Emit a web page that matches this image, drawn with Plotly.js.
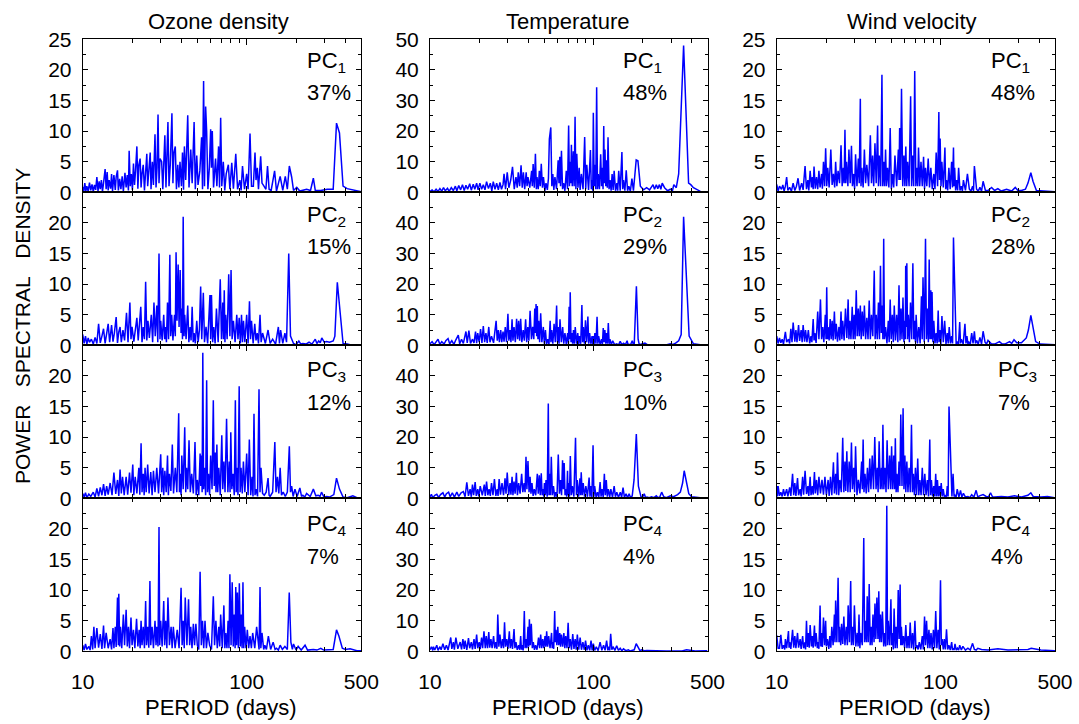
<!DOCTYPE html>
<html><head><meta charset="utf-8">
<script src="https://cdn.plot.ly/plotly-3.0.1.min.js"></script>
<style>html,body{margin:0;padding:0;background:#fff}#chart{width:1079px;height:724px}</style>
</head><body><div id="chart"></div>
<script>
// ---------- labels ----------
const columnTitles = ['Ozone density', 'Temperature', 'Wind velocity'];
const pcNames = ['PC<sub>1</sub>', 'PC<sub>2</sub>', 'PC<sub>3</sub>', 'PC<sub>4</sub>'];
const ozoneVariance = ['37%', '15%', '12%', '7%'];
const temperatureVariance = ['48%', '29%', '10%', '4%'];
const windVariance = ['48%', '28%', '7%', '4%'];
const xTickVals = [10, 100, 500];
const xTickText = ['10', '100', '500'];
const xMinorVals = [20, 30, 40, 50, 60, 70, 80, 90, 200, 300, 400];
const yTicksTop25 = [0, 5, 10, 15, 20, 25];
const yTicks25 = [0, 5, 10, 15, 20];
const yTicksTop50 = [0, 10, 20, 30, 40, 50];
const yTicks50 = [0, 10, 20, 30, 40];

// ---------- data: [period (days), power spectral density] ----------
const ozonePC1 = [[10,0.9],[10.15,0.1],[10.3,1.5],[10.45,0.2],[10.6,1.0],[10.8,0.1],[11.0,1.6],[11.2,0.3],[11.4,1.3],[11.6,0.1],[11.8,1.2],[12.0,0.4],[12.2,2.5],[12.4,0.2],[12.6,1.8],[12.8,0.5],[13.0,2.0],[13.2,0.1],[13.4,1.5],[13.7,3.8],[13.9,0.5],[14.1,3.3],[14.3,0.3],[14.5,2.0],[14.8,0.6],[15.0,3.0],[15.2,0.2],[15.5,2.8],[15.8,0.4],[16.0,2.5],[16.3,3.6],[16.5,0.3],[16.8,2.2],[17.1,0.5],[17.4,2.6],[17.7,0.2],[18.1,3.2],[18.4,0.8],[18.7,2.8],[19.0,0.3],[19.2,6.8],[19.5,1.0],[19.8,3.0],[20.1,0.4],[20.4,4.7],[20.7,1.2],[21.0,3.5],[21.4,7.5],[21.7,0.6],[22.0,4.5],[22.4,5.5],[22.7,0.8],[23.0,3.0],[23.4,4.5],[23.8,0.3],[24.2,3.8],[24.6,6.3],[24.9,1.0],[25.3,4.0],[25.8,6.5],[26.1,0.5],[26.6,5.0],[27.0,1.2],[27.6,9.5],[28.0,0.8],[28.4,4.0],[28.8,12.7],[29.2,1.5],[29.6,5.5],[30.3,5.0],[30.8,0.5],[31.2,3.5],[31.7,9.3],[32.2,0.8],[32.7,6.0],[33.1,11.5],[33.6,1.0],[34.2,4.5],[35.0,12.9],[35.5,1.5],[36.0,6.5],[36.7,7.5],[37.3,0.5],[38.0,4.5],[38.6,0.8],[39.2,5.0],[40.0,1.0],[40.6,6.5],[41.2,0.4],[41.7,7.5],[42.5,2.0],[43.7,12.6],[44.5,0.8],[45.6,7.0],[46.5,1.5],[47.8,11.5],[48.6,0.5],[49.6,6.0],[50.5,1.2],[51.8,3.5],[53.1,9.0],[53.8,0.5],[54.6,18.2],[55.3,1.0],[56.2,14.0],[57.0,10.0],[58.0,0.5],[59.2,4.0],[60.3,10.3],[61.0,4.0],[61.7,10.0],[62.8,0.8],[64.6,5.5],[65.8,1.0],[67.4,7.5],[68.3,0.8],[69.4,12.2],[70.5,1.0],[72.0,5.0],[73.5,0.3],[75.0,3.0],[77.3,4.5],[79.0,0.5],[81.1,4.8],[83.0,0.6],[85.8,6.3],[88.0,0.5],[90.8,2.0],[92.5,0.3],[94.3,4.3],[97.0,0.5],[100,3.0],[102,0.5],[104.8,9.6],[107,1.0],[109.8,1.0],[112.4,6.5],[114,2.0],[116.1,4.0],[118,0.5],[121.7,5.9],[124,1.5],[127.5,1.0],[131,0.5],[134,4.3],[137,0.5],[141,0.3],[148,3.5],[152,0.2],[160,2.6],[166,0.3],[172,2.6],[177,0.5],[182,4.3],[188,2.5],[193,0.3],[202,0.8],[211,0.2],[232,0.5],[245,0.3],[255,2.3],[262,0.3],[283,0.3],[310,0.5],[337,0.5],[353,11.3],[368,9.7],[387,1.0],[410,0.6],[440,0.4],[470,0.2],[500,0.1]];

const ozonePC2 = [[10,1.8],[10.2,0.3],[10.4,1.5],[10.6,0.2],[10.8,1.2],[11.0,0.5],[11.3,1.0],[11.6,0.2],[11.9,1.3],[12.2,0.3],[12.5,3.5],[12.8,0.4],[13.1,1.5],[13.4,2.7],[13.7,0.3],[14.0,1.8],[14.3,3.5],[14.6,0.5],[15.0,3.3],[15.3,0.6],[15.6,2.0],[16.0,4.6],[16.3,0.4],[16.6,2.2],[16.9,3.0],[17.2,0.5],[17.6,2.5],[18.0,0.8],[18.5,5.3],[18.9,0.5],[19.4,7.0],[19.7,1.0],[20.0,3.0],[20.5,0.6],[21.0,2.5],[21.4,4.5],[21.8,0.8],[22.2,3.0],[22.6,6.3],[23.0,0.5],[23.4,3.0],[23.8,1.0],[24.2,10.4],[24.6,0.8],[25.0,4.0],[25.5,1.2],[26.2,5.0],[26.7,0.5],[27.2,7.0],[27.7,1.5],[28.3,6.5],[28.7,0.5],[29.2,15.0],[29.6,1.0],[29.9,4.0],[30.5,0.8],[31.2,5.0],[31.6,1.0],[32.0,3.0],[32.4,0.5],[32.9,7.0],[33.4,1.0],[34.0,14.8],[34.4,1.5],[34.9,5.0],[35.5,0.8],[36.3,5.0],[36.7,1.5],[37.1,15.2],[37.6,4.0],[38.2,13.2],[38.7,3.0],[39.3,12.3],[39.8,2.0],[40.2,6.0],[40.6,1.0],[41.0,21.0],[41.5,1.5],[41.9,5.0],[42.7,1.0],[43.7,6.5],[44.4,0.5],[45.2,3.0],[45.8,0.8],[46.5,6.3],[47.2,0.5],[47.8,2.0],[48.6,0.3],[49.6,4.0],[50.6,0.5],[51.5,2.5],[52.4,9.6],[53.2,1.0],[54.4,8.6],[55.3,0.5],[56.5,3.0],[57.8,0.3],[59.7,8.2],[60.3,1.0],[61.0,8.2],[62.0,0.5],[63.0,3.0],[64.2,0.3],[65.4,6.0],[67.0,0.5],[69.0,10.8],[70.2,1.0],[71.5,7.0],[72.2,1.0],[73.0,9.0],[73.7,0.5],[74.5,5.0],[76.0,1.0],[77.7,11.6],[79.0,1.5],[80.3,12.3],[81.5,1.0],[83.0,4.0],[85.0,0.5],[87.0,5.0],[88.5,1.0],[90.0,4.5],[91.5,0.3],[93.0,5.0],[94.3,0.5],[95.6,4.0],[97.5,0.5],[100,5.0],[102,0.3],[104,7.2],[105.5,1.0],[107,4.0],[109.5,0.3],[112,3.5],[114,0.8],[116,2.0],[118,0.3],[120.6,5.0],[122.5,0.5],[125,2.0],[130,0.3],[135,2.5],[139,0.3],[144,1.0],[150,0.2],[156,3.0],[158.5,0.3],[161,2.5],[166,0.3],[171,2.0],[175,0.5],[180.5,15.0],[185,1.5],[193,0.3],[200,0.1],[208,0.7],[214,0.2],[220,0.3],[230,0.2],[240,0.5],[250,0.2],[262,1.0],[268,0.3],[275,0.7],[281,0.4],[287,1.2],[297,0.5],[307,0.6],[320,0.5],[337,0.7],[345,1.5],[357,10.3],[368,6.0],[378,2.5],[387,0.3],[410,0.2],[427,0.1],[491,0.1],[500,0.1]];

const ozonePC3 = [[10,0.8],[10.2,0.2],[10.4,0.9],[10.6,0.1],[10.9,0.7],[11.2,0.3],[11.6,1.0],[11.9,0.2],[12.2,1.6],[12.5,0.3],[12.8,1.8],[13.1,0.5],[13.4,2.3],[13.7,0.4],[14.0,2.0],[14.3,0.6],[14.7,2.5],[15.1,0.5],[15.5,4.2],[15.9,0.7],[16.3,3.0],[16.6,0.4],[16.9,4.7],[17.2,0.8],[17.5,3.5],[17.9,0.5],[18.4,3.5],[18.8,0.6],[19.3,4.2],[19.7,0.9],[20.2,5.5],[20.5,0.5],[20.9,3.5],[21.4,0.8],[22.0,5.0],[22.3,0.6],[22.7,9.0],[23.0,1.0],[23.4,4.0],[23.7,0.5],[24.0,5.0],[24.4,1.0],[24.9,5.5],[25.4,0.8],[26.0,4.3],[26.5,0.5],[27.0,4.5],[27.6,1.0],[28.3,5.0],[29.0,0.8],[29.9,7.2],[30.3,1.0],[30.8,5.0],[31.2,0.5],[31.7,4.5],[32.3,1.0],[32.9,7.0],[33.3,0.5],[33.8,4.0],[34.5,1.2],[35.2,8.8],[35.8,0.8],[36.7,5.0],[37.5,1.0],[38.5,13.9],[38.9,1.0],[39.3,4.0],[39.8,0.5],[40.2,7.0],[41.0,1.5],[41.9,11.6],[42.5,1.0],[43.0,5.0],[43.7,1.5],[44.5,9.5],[45.3,1.0],[46.2,4.0],[47.3,0.8],[48.4,9.2],[49.2,0.5],[50.0,3.0],[51.0,0.5],[52.0,7.3],[52.5,2.0],[53.0,7.0],[53.5,1.0],[54.0,23.8],[54.6,1.5],[55.3,5.0],[56.2,0.5],[57.0,19.3],[57.7,1.0],[58.5,4.0],[59.4,0.5],[60.3,7.0],[61.5,1.5],[62.6,16.0],[63.4,2.0],[64.3,7.5],[65.0,1.0],[65.8,8.8],[66.6,1.0],[67.6,5.0],[69.0,0.5],[70.5,10.3],[71.5,1.5],[72.6,6.0],[73.8,1.0],[75.4,13.0],[76.8,1.0],[78.3,6.0],[79.2,1.0],[80.0,10.8],[81.2,1.5],[82.5,4.0],[84.0,0.5],[85.3,16.0],[86.3,1.0],[87.2,5.0],[88.5,0.5],[90.0,18.3],[91.2,1.0],[92.4,5.0],[94.0,0.8],[95.5,6.0],[97.5,1.0],[100,7.3],[102,0.5],[103.8,9.6],[105.8,0.5],[107.8,3.5],[109.3,0.3],[110.8,13.8],[112.4,0.5],[114,1.5],[116.5,0.3],[118.9,17.8],[120.6,1.0],[122.3,5.0],[125,0.8],[128,0.5],[131.5,1.0],[135,3.3],[137,0.5],[139,0.3],[144,1.0],[148.5,9.2],[151,1.0],[154,3.5],[157,0.8],[160,5.0],[163,0.5],[167,1.0],[172,0.3],[177,1.0],[182,8.5],[185,1.0],[188,2.0],[192,0.3],[197,1.5],[203,0.3],[211,1.7],[216,0.3],[220,0.5],[226,0.2],[232,0.8],[244,0.3],[255,1.5],[264,0.4],[273,0.5],[280,0.3],[286,1.0],[296,0.2],[307,0.3],[320,0.2],[330,0.4],[340,0.6],[353,3.3],[368,1.5],[387,0.2],[410,0.1],[444,0.4],[470,0.1],[500,0.1]];

const ozonePC4 = [[10,1.0],[10.2,0.2],[10.4,1.2],[10.6,0.3],[10.9,0.8],[11.1,0.2],[11.3,2.5],[11.5,0.3],[11.7,4.0],[11.9,0.5],[12.2,3.8],[12.5,0.6],[12.8,2.8],[13.1,0.4],[13.4,4.2],[13.6,0.5],[13.9,3.0],[14.3,0.5],[14.7,2.0],[15.0,0.3],[15.3,3.8],[15.5,0.5],[15.8,4.0],[16.0,0.7],[16.3,8.8],[16.5,1.0],[16.6,9.4],[16.8,0.8],[17.0,4.0],[17.3,0.5],[17.7,6.0],[18.0,1.0],[18.4,6.8],[18.7,0.8],[19.0,4.0],[19.3,0.5],[19.7,5.5],[20.0,1.0],[20.4,3.5],[20.8,0.5],[21.3,5.3],[21.7,0.8],[22.1,3.5],[22.4,0.5],[22.7,5.0],[23.0,1.0],[23.4,4.0],[23.8,0.5],[24.2,8.2],[24.5,1.0],[24.9,4.0],[25.3,0.6],[25.7,11.5],[26.0,1.0],[26.5,4.0],[27.0,0.5],[27.6,5.0],[28.0,1.0],[28.3,4.0],[28.8,0.8],[29.2,20.3],[29.5,1.0],[29.9,5.0],[30.5,0.8],[31.2,8.2],[31.6,1.0],[32.1,5.0],[32.6,0.5],[33.1,8.8],[33.8,1.0],[34.6,4.0],[35.1,0.5],[35.7,4.0],[36.6,0.5],[37.7,3.5],[38.7,0.5],[39.8,10.4],[40.4,1.0],[41.0,5.0],[41.6,0.5],[42.2,8.8],[43.2,1.0],[44.2,8.5],[44.9,1.0],[45.6,4.0],[46.4,0.5],[47.3,4.5],[48.1,1.0],[49.0,4.5],[49.5,1.0],[50.0,1.0],[51.0,0.3],[52.0,13.0],[52.9,1.0],[53.8,5.0],[54.7,0.5],[55.7,5.0],[56.8,0.5],[58.0,3.0],[59.4,1.0],[61.0,0.3],[62.6,9.0],[63.7,1.0],[64.9,5.0],[66.2,0.5],[67.6,4.0],[68.5,0.8],[69.4,6.0],[71.0,0.5],[72.6,7.5],[73.6,0.5],[74.6,3.0],[75.8,0.5],[77.0,5.0],[78.0,0.5],[79.0,12.6],[80.3,1.0],[81.6,11.3],[82.8,0.8],[84.0,6.0],[85.0,0.5],[85.8,10.5],[86.8,1.0],[87.8,9.6],[89.0,0.5],[90.2,11.1],[91.5,0.8],[92.7,6.0],[93.8,0.5],[94.9,11.3],[96.0,0.5],[97.2,4.0],[99.0,0.5],[100.9,3.5],[102.8,0.5],[104.8,2.5],[106.8,0.5],[108.8,3.0],[112,0.5],[115,4.0],[117.9,1.5],[119,0.3],[120.6,10.5],[122,0.5],[124,3.0],[127,0.3],[129,1.0],[132,0.3],[135.6,2.5],[140,0.3],[145,1.5],[149,0.3],[152,0.5],[156,0.2],[160,1.0],[165,0.3],[171,0.8],[177,0.3],[181.8,9.6],[186,1.5],[190,0.3],[193,1.2],[200,0.2],[206,0.8],[215,0.2],[227,1.0],[235,0.2],[246,0.3],[255,0.3],[268,0.2],[283,0.5],[295,0.2],[307,0.2],[320,0.2],[337,0.3],[353,3.5],[365,2.5],[383,0.5],[400,0.3],[427,0.4],[470,0.1],[500,0.1]];

const temperaturePC1 = [[10,0.3],[10.3,0.8],[10.6,0.2],[10.9,1.0],[11.2,0.3],[11.5,1.2],[11.8,0.4],[12.1,1.5],[12.4,0.5],[12.8,1.3],[13.1,0.3],[13.5,1.5],[13.9,0.6],[14.3,2.0],[14.6,0.5],[15.0,2.2],[15.4,0.8],[15.8,2.5],[16.2,0.6],[16.6,2.3],[17.0,1.0],[17.5,2.8],[17.9,0.7],[18.4,2.6],[18.8,1.0],[19.3,3.0],[19.7,0.8],[20.2,3.0],[20.7,1.0],[21.2,2.5],[21.7,0.8],[22.2,3.5],[22.8,1.2],[23.4,3.0],[23.9,0.5],[24.4,3.5],[25.0,1.0],[25.6,3.0],[26.2,0.8],[26.8,3.2],[27.4,1.0],[28.0,2.5],[28.4,6.0],[29.0,1.0],[29.7,6.5],[30.4,1.5],[31.2,4.0],[32.0,8.3],[32.8,1.0],[33.6,5.0],[34.2,1.5],[34.7,6.5],[35.4,2.0],[36.1,8.8],[36.7,1.5],[37.3,6.5],[38.0,1.0],[38.8,6.5],[39.3,2.0],[39.8,5.0],[40.8,1.5],[41.9,7.0],[42.3,2.0],[42.8,9.2],[43.5,1.5],[44.2,12.6],[44.8,1.0],[45.2,5.0],[46.0,1.0],[46.7,7.0],[47.3,2.0],[48.0,9.3],[48.8,1.5],[49.5,5.0],[50.5,0.5],[51.3,3.0],[52.3,0.8],[53.1,4.5],[53.8,17.4],[54.9,21.2],[55.7,2.0],[56.5,6.0],[57.3,0.8],[58.2,5.0],[59.5,1.0],[60.9,10.5],[61.6,3.0],[62.3,11.6],[63.0,2.0],[63.8,13.6],[64.8,1.0],[65.8,3.0],[67.0,0.5],[68.3,7.0],[69.5,1.0],[70.6,21.8],[71.4,2.0],[72.2,10.0],[72.8,3.0],[73.4,15.5],[74.3,2.0],[75.4,13.4],[76.3,2.0],[77.3,24.7],[78.2,1.0],[79.2,12.6],[80.5,1.5],[81.9,8.0],[83.0,0.8],[84.5,6.0],[86.5,1.0],[88.5,18.1],[89.8,1.0],[91.2,9.0],[93.5,0.8],[96.0,13.8],[97.2,1.0],[98.4,4.0],[99.2,0.5],[100,26],[101.2,2.0],[102.3,9.0],[103.5,1.0],[104.8,34.3],[106,1.0],[107.2,6.0],[109,1.0],[110.9,12.4],[112.3,2.0],[113.6,8.0],[114.7,1.0],[115.8,21.7],[116.8,3.0],[117.9,14.0],[119.2,2.0],[120.6,10.5],[121.8,1.5],[123,18],[124.8,1.0],[126.6,4.0],[128.5,0.5],[130.3,6.0],[132.2,0.8],[134.1,7.0],[136.7,0.5],[139.3,3.0],[141,0.5],[143,7.0],[146,0.5],[149.6,13.2],[151.3,1.0],[153,4.0],[156,0.5],[159,7.2],[162,0.5],[165,2.0],[168.5,0.3],[172.3,4.5],[176,0.5],[183,10.6],[187.5,10.3],[194,2.0],[203,0.8],[212,1.5],[221,0.8],[232,2.5],[237,1.0],[243,2.5],[248,1.2],[254,2.5],[259,1.0],[264,3.0],[273,1.5],[285,0.5],[296,1.0],[305,0.5],[311,2.5],[322,1.5],[333,6.0],[357,48],[383,3.0],[395,2.5],[410,1.5],[452,0.3],[500,0.2]];

const temperaturePC2 = [[10,0.5],[10.3,1.2],[10.6,0.2],[10.9,1.0],[11.2,2.0],[11.5,0.3],[11.8,1.2],[12.2,0.4],[12.5,1.5],[12.9,2.2],[13.2,0.5],[13.6,1.5],[14.0,0.3],[14.4,1.8],[14.9,3.3],[15.2,0.5],[15.6,2.0],[16.0,0.6],[16.6,4.5],[16.9,0.8],[17.3,4.8],[17.7,0.6],[18.2,2.0],[18.6,0.8],[19.0,4.5],[19.3,0.7],[19.6,4.0],[20.0,1.0],[20.4,5.3],[20.8,0.8],[21.2,6.3],[21.6,1.0],[22.0,4.0],[22.4,0.8],[22.9,6.0],[23.3,1.0],[23.8,3.0],[24.5,0.8],[25.4,8.0],[25.8,1.5],[26.2,5.0],[26.6,1.0],[27.1,5.0],[27.5,1.0],[28.0,4.5],[28.4,1.2],[28.9,6.0],[29.4,1.0],[30.0,10.3],[30.4,1.5],[30.9,5.0],[31.3,1.0],[31.8,8.5],[32.2,1.5],[32.7,6.0],[33.3,1.0],[33.9,8.7],[34.4,2.0],[34.9,8.0],[35.4,1.5],[35.9,8.7],[36.5,1.0],[37.2,5.0],[37.8,1.5],[38.5,8.5],[39.1,1.0],[39.7,6.0],[40.3,1.5],[41.0,11.3],[41.8,2.0],[42.5,6.0],[43.2,2.0],[43.8,12.0],[44.2,4.0],[44.6,13.5],[45.0,3.0],[45.4,12.8],[45.8,2.0],[46.3,8.0],[46.9,1.0],[47.6,10.5],[48.4,1.0],[49.4,6.0],[50.1,0.5],[50.9,5.0],[51.7,0.3],[52.6,2.0],[53.5,0.3],[54.4,8.0],[55.0,1.0],[55.6,5.0],[56.5,0.5],[57.5,7.0],[58.5,1.0],[59.6,13.0],[60.3,1.0],[61.0,6.0],[61.7,0.5],[62.5,8.5],[63.7,1.0],[64.9,6.0],[65.9,0.5],[67.0,4.0],[68.3,0.3],[69.6,4.0],[70.4,0.5],[71.1,12.6],[71.7,2.0],[72.2,17.3],[73.0,1.0],[73.9,4.0],[74.7,0.5],[75.6,5.0],[76.5,0.5],[77.5,6.0],[78.9,0.5],[80.3,4.0],[81.3,0.3],[82.3,3.0],[83.7,0.5],[85.1,13.2],[86.0,1.0],[86.9,6.0],[88.2,0.5],[89.5,8.2],[91.0,1.0],[92.6,9.4],[93.7,0.5],[94.9,4.0],[96.5,0.5],[98.2,3.0],[99.2,0.3],[100,3.0],[101,0.3],[102.2,4.0],[103.8,0.5],[105.4,9.3],[106.6,0.5],[107.8,3.0],[110,0.3],[112.3,2.0],[113.6,0.2],[115,5.6],[116.3,1.0],[117.7,5.0],[119.1,0.5],[120.6,4.0],[122,0.5],[123.5,7.3],[125,0.5],[126.3,2.0],[128.8,0.2],[131.3,1.5],[135,0.2],[139.2,0.5],[142.5,0.1],[146,1.3],[149.5,0.2],[153,0.7],[157,0.2],[161,1.5],[163,0.2],[165,0.3],[169,0.2],[173,1.5],[176,0.2],[178,0.3],[183.5,19.3],[188,2.0],[191,0.2],[195,0.3],[207,0.7],[214,0.2],[221,0.2],[232,0.4],[244,0.3],[256,0.2],[268,0.3],[282,0.2],[296,0.5],[307,0.3],[319,0.7],[333,1.5],[345,3.5],[357,42],[386,3.0],[400,1.5],[410,0.5],[451,0.2],[500,0.2]];

const temperaturePC3 = [[10,0.5],[10.2,1.3],[10.4,0.2],[10.7,1.0],[11.0,1.3],[11.3,0.3],[11.6,1.2],[12.0,1.8],[12.3,0.4],[12.6,1.5],[13.0,2.0],[13.3,0.5],[13.7,1.8],[14.1,0.4],[14.6,2.0],[15.0,0.6],[15.5,1.8],[16.0,2.2],[16.4,0.5],[16.8,5.2],[17.2,0.8],[17.6,3.0],[17.9,0.5],[18.2,4.5],[18.5,1.0],[18.9,5.3],[19.2,0.8],[19.6,3.0],[19.9,0.6],[20.3,4.0],[20.9,1.0],[21.5,4.5],[21.8,0.8],[22.2,5.5],[22.6,1.0],[23.0,3.0],[23.4,0.8],[23.8,5.0],[24.3,1.0],[24.8,6.3],[25.3,0.8],[25.8,3.0],[26.1,0.8],[26.5,6.3],[27.0,1.2],[27.6,5.0],[28.2,1.0],[28.8,6.5],[29.2,1.5],[29.7,8.4],[30.3,1.0],[30.9,5.0],[31.3,1.2],[31.8,7.0],[32.2,1.0],[32.7,5.5],[33.2,1.5],[33.8,8.3],[34.3,1.0],[34.9,5.0],[35.6,1.5],[36.4,8.0],[37.0,2.0],[37.7,5.0],[38.2,2.0],[38.7,13.6],[39.2,3.0],[39.8,12.2],[40.4,2.0],[41.0,7.0],[41.5,1.5],[42.1,5.0],[42.8,0.8],[43.5,3.0],[44.4,1.0],[45.4,8.0],[46.0,1.5],[46.7,7.5],[47.3,1.0],[48.0,8.2],[48.6,1.0],[49.2,3.0],[49.7,0.5],[50.2,5.0],[50.8,1.0],[51.3,6.0],[52.2,0.5],[53.0,31.0],[53.5,1.0],[54.0,8.0],[54.6,1.0],[55.3,13.6],[56.1,1.0],[57.0,4.0],[58.0,0.3],[58.9,2.0],[59.9,0.5],[61.0,14.3],[62.0,1.5],[63.0,6.0],[63.9,1.0],[64.8,12.4],[65.5,3.0],[66.3,11.5],[67.1,1.0],[67.9,3.0],[68.7,0.5],[69.5,9.0],[70.0,1.0],[70.5,5.0],[71.4,0.5],[72.3,13.8],[73.3,1.0],[74.4,4.0],[76.0,0.5],[77.8,19.8],[78.8,1.0],[79.7,6.0],[81.2,0.5],[82.8,6.5],[83.5,1.0],[84.3,8.5],[85.5,1.0],[86.7,5.0],[88.3,0.5],[90.0,4.0],[92.0,0.5],[94.2,6.8],[95.4,0.5],[96.6,4.0],[98.0,0.3],[99.6,17.3],[100.8,0.5],[101.9,4.0],[104,0.3],[106,2.0],[108,0.3],[110,5.3],[111.5,0.5],[113,3.0],[115,0.3],[116.8,8.0],[118.4,1.0],[120,6.0],[121.8,0.5],[123.6,3.0],[126,0.5],[128,3.0],[131,0.3],[134.1,4.0],[136.5,0.5],[139.2,2.0],[142.5,0.3],[146.2,2.0],[149,0.3],[152,3.5],[155,0.3],[158.6,1.5],[162,0.2],[165.6,1.5],[169,0.2],[173,0.8],[177.5,6.0],[183.3,21.0],[188.8,4.0],[195.8,0.5],[200,0.3],[205,1.5],[209,0.2],[213,0.4],[220,0.2],[227,0.5],[235,0.2],[243,0.8],[249,0.2],[255,0.4],[262,2.0],[270,0.5],[280,0.2],[296,0.8],[310,0.5],[328,1.2],[341,2.0],[352,5.0],[360,9.0],[370,6.0],[384,1.5],[400,0.5],[451,0.2],[500,0.2]];

const temperaturePC4 = [[10,0.5],[10.2,1.5],[10.4,0.3],[10.5,1.5],[10.7,0.4],[11.0,2.0],[11.2,0.3],[11.5,1.5],[11.7,0.5],[12.0,2.5],[12.3,0.5],[12.6,2.0],[12.9,0.4],[13.4,4.5],[13.6,0.8],[13.9,3.0],[14.1,0.5],[14.4,4.5],[14.8,0.8],[15.3,3.0],[15.6,0.6],[15.9,4.0],[16.2,0.8],[16.4,3.5],[16.8,0.5],[17.2,4.3],[17.5,1.0],[17.9,3.0],[18.2,0.6],[18.6,4.0],[18.9,0.8],[19.3,5.5],[19.6,1.0],[20.0,3.0],[20.3,0.7],[20.7,4.5],[21.0,1.0],[21.4,6.5],[21.8,1.0],[22.1,5.0],[22.5,1.0],[22.9,6.3],[23.2,1.2],[23.6,4.0],[24.0,1.0],[24.5,5.0],[24.9,1.0],[25.3,3.0],[25.7,0.8],[26.0,12.0],[26.4,1.5],[26.8,5.5],[27.3,1.0],[27.8,4.0],[28.2,1.0],[28.6,9.5],[29.0,1.5],[29.5,4.0],[30.0,0.8],[30.6,6.5],[31.0,1.0],[31.5,4.0],[32.0,0.8],[32.7,7.3],[33.1,1.0],[33.6,3.0],[34.2,0.5],[34.9,2.0],[35.4,0.5],[35.9,5.0],[36.3,0.5],[36.6,2.0],[37.2,0.3],[37.8,13.2],[38.2,1.0],[38.7,4.0],[39.2,1.0],[39.8,8.0],[40.2,1.5],[40.6,10.5],[41.1,2.0],[41.7,9.0],[42.3,1.0],[42.9,3.0],[43.6,0.5],[44.3,2.0],[45.2,0.5],[46.2,4.5],[46.9,1.0],[47.6,5.5],[48.3,1.0],[49.0,4.0],[49.8,1.0],[50.6,5.0],[51.2,1.5],[51.8,6.5],[52.5,1.5],[53.3,5.0],[54.3,1.0],[55.5,6.0],[56.0,1.0],[56.4,3.0],[57.2,0.8],[58.0,13.2],[58.5,3.0],[59.0,7.0],[59.8,2.0],[60.6,8.0],[61.4,2.0],[62.3,6.0],[63.0,1.5],[63.8,5.5],[64.9,1.5],[66.0,6.0],[66.9,1.0],[67.8,5.0],[69.0,1.0],[70.1,9.3],[71.1,1.0],[72.2,4.0],[73.5,0.5],[74.8,5.6],[76.1,0.8],[77.4,4.0],[78.6,0.5],[79.8,5.5],[81.4,0.5],[83.0,4.5],[84.6,0.5],[86.3,3.0],[88.0,0.5],[89.6,3.5],[91.4,0.3],[93.2,2.0],[95,0.3],[96.8,3.5],[98.4,0.3],[100,2.5],[102,0.3],[104.3,1.5],[107,0.2],[110,3.0],[112.7,0.3],[115.5,2.0],[118,0.3],[120.6,3.5],[122.7,0.3],[124.8,1.5],[126,0.3],[127.7,5.7],[129.8,0.5],[132,1.5],[135.5,0.3],[139,1.8],[142.5,0.3],[146,1.0],[149.5,0.2],[153,0.8],[158,0.2],[164,0.5],[168,0.1],[172.5,0.3],[178,0.5],[183,2.5],[189,0.8],[193,0.2],[198,0.5],[205,0.2],[213,0.3],[230,0.1],[243,0.2],[280,0.1],[311,0.2],[350,0.1],[372,0.5],[389,0.3],[420,0.1],[493,0.2],[500,0.2]];

const windPC1 = [[10,1.3],[10.2,0.2],[10.4,1.0],[10.7,0.5],[10.9,1.2],[11.1,0.2],[11.3,1.0],[11.5,2.5],[11.7,0.3],[12.0,0.8],[12.3,0.2],[12.6,1.5],[12.9,0.3],[13.2,1.0],[13.5,2.3],[13.8,0.3],[14.2,1.5],[14.5,0.4],[14.9,4.3],[15.2,0.5],[15.5,2.0],[15.7,0.3],[16.0,3.5],[16.3,0.8],[16.5,2.5],[16.7,0.5],[16.9,4.2],[17.2,0.6],[17.5,2.5],[17.8,0.5],[18.1,3.5],[18.4,0.8],[18.8,3.0],[19.0,0.6],[19.3,5.0],[19.6,1.0],[19.9,7.2],[20.2,1.0],[20.5,4.0],[20.9,0.8],[21.4,7.0],[21.8,1.2],[22.2,3.0],[22.6,0.8],[22.9,5.0],[23.3,1.0],[23.7,3.5],[24.2,1.5],[24.7,7.7],[25.1,1.0],[25.5,4.0],[25.8,1.5],[26.1,10.2],[26.4,1.5],[26.7,5.0],[27.2,1.0],[27.6,7.0],[28.1,1.5],[28.6,7.6],[29.0,1.0],[29.5,3.0],[29.9,0.5],[30.3,6.2],[30.9,1.0],[31.5,5.5],[31.9,1.5],[32.4,15.3],[32.7,1.0],[33.1,4.0],[33.7,0.8],[34.3,7.0],[34.9,1.5],[35.5,4.5],[36.4,1.0],[37.3,9.3],[37.9,1.5],[38.5,6.0],[39.1,1.0],[39.8,8.0],[40.5,1.5],[41.3,10.9],[41.8,1.0],[42.3,6.0],[43.1,1.0],[43.9,19.2],[44.4,1.0],[45.0,5.0],[45.6,1.0],[46.2,7.0],[46.8,1.0],[47.5,4.0],[48.4,0.8],[49.3,10.5],[50.1,0.5],[51.0,3.0],[51.8,0.8],[52.7,6.0],[54.0,1.0],[55.3,7.0],[55.8,2.0],[56.3,10.5],[57.0,2.0],[57.8,16.9],[58.8,1.0],[59.8,6.0],[60.6,1.0],[61.4,7.5],[62.2,1.0],[63.0,5.0],[64.3,1.0],[65.7,15.7],[66.6,1.0],[67.6,6.0],[68.6,1.0],[69.6,19.8],[70.7,1.0],[71.8,4.0],[72.6,1.0],[73.4,7.3],[74.7,1.0],[76.0,5.0],[77.4,1.0],[78.8,5.8],[79.9,0.5],[81.0,4.0],[82.5,1.0],[84.1,5.5],[85.7,0.8],[87.3,4.0],[89.1,0.5],[91.0,3.0],[92.5,0.5],[94.1,6.5],[96.0,1.0],[97.7,13.1],[98.6,2.0],[99.5,8.8],[100.7,1.0],[101.9,5.0],[104,0.8],[106.4,7.3],[107.6,0.5],[108.8,2.0],[110.6,0.3],[112.5,4.0],[114.6,0.5],[116.9,5.0],[118.4,0.8],[120,7.3],[121,1.0],[122,4.0],[123.7,0.3],[125.5,2.0],[127.2,0.3],[129,4.0],[131.5,0.3],[134,1.0],[136,0.2],[138,2.0],[142,0.3],[146,3.0],[150,0.5],[153.5,0.2],[157,1.0],[159,0.2],[161,4.3],[166,0.5],[170,0.2],[174,0.8],[178,0.2],[182,1.8],[188,0.3],[195,0.3],[205,0.8],[214,0.3],[224,0.6],[235,0.2],[253,0.5],[272,0.2],[286,0.8],[297,0.3],[312,0.3],[330,0.5],[342,1.5],[356,3.2],[367,1.8],[385,0.3],[435,0.2],[496,0.1],[500,0.1]];

const windPC2 = [[10,1.5],[10.2,0.3],[10.4,1.2],[10.6,0.4],[10.8,1.0],[11.0,0.2],[11.3,2.2],[11.5,0.5],[11.8,1.0],[12.0,0.3],[12.2,2.7],[12.4,0.5],[12.6,3.7],[12.9,0.6],[13.1,2.5],[13.3,0.5],[13.6,3.3],[13.8,0.7],[14.1,2.5],[14.3,0.5],[14.5,3.3],[14.8,0.6],[15.0,2.5],[15.3,0.5],[15.6,2.5],[15.9,0.3],[16.2,1.5],[16.4,0.5],[16.7,4.3],[16.9,0.8],[17.1,2.0],[17.4,0.4],[17.8,5.5],[18.1,1.0],[18.5,7.5],[18.8,1.0],[19.1,3.0],[19.4,0.5],[19.8,5.0],[20.0,1.0],[20.2,9.5],[20.4,1.0],[20.6,3.0],[20.9,0.8],[21.2,4.3],[21.5,1.0],[21.8,4.0],[22.1,0.8],[22.5,5.5],[22.8,1.0],[23.1,3.5],[23.5,0.6],[24.0,3.0],[24.3,0.8],[24.7,5.5],[25.0,1.0],[25.3,4.0],[25.8,0.8],[26.3,6.0],[26.8,1.2],[27.3,7.5],[27.6,1.0],[28.0,4.0],[28.4,1.0],[28.9,6.3],[29.3,1.0],[29.7,5.0],[30.1,1.0],[30.6,9.0],[31.0,1.5],[31.5,6.0],[31.9,1.5],[32.4,6.5],[32.8,1.0],[33.3,5.5],[33.8,1.5],[34.3,6.5],[34.9,1.0],[35.5,4.5],[36.1,1.0],[36.7,7.3],[37.3,1.0],[37.9,5.0],[38.6,1.5],[39.4,12.2],[39.9,1.0],[40.5,5.0],[41.1,1.0],[41.8,7.0],[42.4,1.0],[43.0,13.0],[43.5,2.0],[44.0,6.5],[44.5,1.0],[45.0,17.4],[45.5,1.0],[46.2,3.0],[47.1,0.3],[48.0,4.0],[48.6,0.5],[49.3,7.5],[50.0,1.0],[50.8,5.0],[51.5,0.5],[52.2,6.5],[53.1,0.8],[54.0,5.0],[54.9,0.5],[55.8,9.8],[56.6,0.8],[57.4,6.0],[58.2,1.0],[59.0,7.8],[59.8,0.5],[60.6,4.0],[61.0,1.0],[61.3,13.0],[61.8,3.0],[62.3,13.4],[62.9,1.0],[63.6,5.0],[64.6,0.5],[65.6,7.0],[66.7,1.0],[67.8,13.4],[68.7,1.0],[69.6,4.0],[70.3,0.5],[71.0,5.0],[72.3,0.3],[73.7,3.0],[75.1,0.3],[76.5,8.0],[77.3,1.0],[78.2,11.1],[79.6,0.5],[81.0,17.4],[82.1,1.0],[83.3,6.0],[84.3,0.5],[85.3,14.0],[86.3,1.0],[87.3,9.0],[88.0,1.0],[88.8,8.7],[89.9,0.5],[91.0,4.0],[92.5,0.3],[94.1,2.0],[95.4,0.3],[96.8,5.7],[97.9,0.5],[99.0,2.5],[100.5,0.2],[102,4.8],[104,0.5],[106,4.0],[108,0.2],[110,2.0],[111.5,0.3],[113,3.0],[115,0.3],[117,1.5],[118.5,0.3],[120,17.6],[122.8,3.0],[124.6,0.2],[126.5,0.5],[128.8,0.2],[131,3.8],[132.5,0.3],[134,1.0],[137.5,0.2],[141,3.5],[143,0.3],[145,1.5],[147,0.2],[149,0.5],[152,0.2],[155,2.0],[158,0.3],[161,2.3],[163.5,0.3],[166,0.8],[170,0.2],[174,1.3],[178,0.2],[182,2.3],[187,0.5],[191,0.2],[195,0.8],[205,0.2],[214,0.2],[229,0.6],[238,0.2],[247,0.2],[264,0.6],[272,0.3],[281,0.9],[292,0.4],[312,0.4],[334,1.2],[344,2.5],[356,4.9],[366,3.0],[381,0.6],[405,0.2],[496,0.1],[500,0.1]];

const windPC3 = [[10,2.0],[10.1,0.3],[10.2,2.0],[10.4,0.4],[10.6,1.0],[10.8,0.3],[11.0,1.5],[11.2,0.4],[11.5,1.5],[11.7,0.3],[12.0,1.8],[12.2,0.4],[12.5,4.0],[12.7,0.5],[12.9,2.5],[13.1,0.4],[13.4,3.3],[13.6,0.5],[13.9,1.5],[14.1,0.3],[14.4,3.5],[14.6,0.6],[14.9,4.5],[15.2,0.7],[15.5,2.0],[15.7,0.4],[16.0,3.5],[16.2,0.5],[16.5,2.0],[16.7,0.6],[17.0,4.3],[17.2,0.8],[17.5,3.0],[17.8,0.5],[18.1,3.5],[18.5,0.8],[18.9,3.0],[19.3,0.6],[19.7,3.5],[20.1,0.5],[20.6,3.0],[20.9,0.4],[21.3,3.5],[21.7,0.5],[22.2,5.9],[22.5,0.8],[22.9,4.0],[23.2,0.6],[23.5,7.5],[23.9,0.5],[24.3,3.0],[24.8,1.0],[25.3,9.9],[25.7,1.0],[26.1,6.0],[26.4,1.2],[26.8,7.7],[27.2,1.0],[27.7,6.0],[28.1,1.0],[28.6,9.1],[29.0,1.5],[29.5,5.0],[29.9,1.0],[30.3,8.5],[30.9,0.5],[31.5,3.0],[32.2,0.8],[33.0,6.0],[33.3,1.5],[33.7,9.6],[34.1,1.0],[34.6,4.0],[35.2,0.8],[35.8,5.0],[36.4,1.0],[37.0,6.5],[37.6,1.5],[38.3,7.0],[39.0,1.5],[39.7,10.0],[40.4,1.5],[41.1,5.0],[41.6,1.0],[42.2,9.3],[42.9,1.5],[43.6,5.0],[44.0,1.5],[44.5,12.0],[45.1,1.5],[45.8,5.0],[46.5,1.0],[47.2,9.5],[48.0,1.5],[48.9,7.0],[49.6,1.5],[50.3,8.5],[51.0,1.5],[51.8,7.0],[52.4,1.5],[53.0,9.8],[53.6,1.0],[54.2,4.0],[55.0,1.0],[55.8,6.0],[56.5,2.0],[57.2,13.7],[58.2,2.0],[59.1,14.7],[59.8,1.5],[60.6,7.0],[61.4,1.0],[62.3,6.0],[63.3,1.0],[64.3,5.0],[65.4,1.0],[66.5,12.0],[67.4,1.0],[68.3,4.0],[69.3,0.5],[70.3,5.0],[71.4,0.5],[72.6,6.5],[73.7,0.5],[74.8,3.0],[76.1,0.5],[77.4,5.0],[78.8,0.5],[80.2,4.0],[81.6,0.5],[83.1,3.0],[84.5,0.3],[86.0,9.6],[87.0,0.5],[88.0,3.0],[89.5,0.3],[91.0,2.0],[92.2,0.3],[93.5,4.0],[94.6,0.3],[95.8,3.0],[97.1,0.3],[98.5,2.0],[99.7,0.3],[101,2.5],[102.5,0.3],[103.9,1.5],[105.6,0.2],[107.3,0.5],[108.6,0.2],[110,2.0],[111.3,0.3],[112.7,15.0],[115.6,3.0],[117.4,0.3],[119.3,4.0],[121,0.3],[122.5,0.5],[124.5,0.2],[126.5,1.5],[129.5,0.2],[132.5,1.3],[135,0.2],[138,0.8],[142,0.2],[147,0.3],[151,0.1],[155,0.6],[160,0.2],[165,1.3],[169,0.2],[173,0.4],[182,0.6],[190,0.3],[196,0.2],[202,0.9],[208,0.2],[214,0.2],[235,0.3],[258,0.2],[283,0.4],[312,0.2],[342,0.5],[356,0.9],[368,0.3],[410,0.2],[450,0.3],[496,0.1],[500,0.1]];

const windPC4 = [[10,2.6],[10.2,0.5],[10.4,0.5],[10.5,1.5],[10.6,2.7],[10.8,0.4],[11.0,1.0],[11.2,0.3],[11.3,2.0],[11.5,0.5],[11.8,3.3],[11.9,0.6],[12.0,1.5],[12.2,0.4],[12.5,3.5],[12.7,0.6],[12.9,2.5],[13.1,0.5],[13.4,3.0],[13.6,0.6],[13.9,2.0],[14.1,0.4],[14.4,2.5],[14.6,0.5],[14.9,1.5],[15.0,0.3],[15.2,5.0],[15.4,0.7],[15.6,3.0],[15.8,0.6],[16.0,4.3],[16.3,0.8],[16.5,2.5],[16.7,0.6],[17.0,4.2],[17.2,0.8],[17.4,3.0],[17.7,0.5],[17.9,1.5],[18.1,0.4],[18.4,7.5],[18.6,0.8],[18.8,3.0],[19.0,0.7],[19.3,5.5],[19.6,1.0],[19.9,5.0],[20.1,0.8],[20.4,2.0],[20.8,0.4],[21.1,2.5],[21.4,0.6],[21.7,4.0],[22.1,1.0],[22.5,6.0],[22.7,1.5],[22.9,8.3],[23.3,1.5],[23.7,12.0],[24.0,1.5],[24.2,4.0],[24.6,1.0],[24.9,4.5],[25.3,1.2],[25.7,5.7],[26.1,1.0],[26.6,4.0],[27.0,1.0],[27.3,7.5],[27.8,1.5],[28.3,11.5],[28.6,1.0],[29.0,4.0],[29.4,1.0],[29.8,7.5],[30.4,0.8],[31.0,3.0],[31.4,0.8],[31.8,6.0],[32.2,0.5],[32.6,3.0],[33.3,1.0],[34.0,18.5],[34.4,1.5],[34.9,5.0],[35.3,1.5],[35.7,9.0],[36.2,1.5],[36.7,11.0],[37.2,1.0],[37.7,4.0],[38.2,1.0],[38.7,6.0],[39.3,1.5],[39.8,7.8],[40.3,2.0],[40.9,8.8],[41.5,2.0],[42.0,9.8],[42.5,1.5],[43.0,6.0],[43.6,1.5],[44.2,6.5],[45.0,0.8],[45.7,3.0],[46.3,0.8],[47.0,23.8],[47.5,1.0],[48.0,5.0],[48.9,1.0],[49.8,8.5],[50.3,1.0],[50.8,3.0],[51.5,0.3],[52.1,7.0],[52.9,0.5],[53.6,4.0],[54.4,0.5],[55.2,10.0],[55.9,2.0],[56.7,10.9],[57.2,1.0],[57.7,4.0],[58.5,1.0],[59.4,2.5],[60.4,0.5],[61.4,4.3],[62.4,0.5],[63.4,2.5],[64.3,0.5],[65.3,4.7],[66.4,0.5],[67.5,3.0],[68.6,0.3],[69.8,5.0],[70.8,0.5],[71.8,1.0],[73.0,0.3],[74.2,1.5],[75.8,0.3],[77.4,2.5],[78.6,0.3],[79.9,5.7],[81.0,1.0],[82.2,5.0],[83.6,0.5],[85.0,3.5],[86.2,0.5],[87.5,3.0],[89.0,0.3],[90.5,3.5],[92.0,0.5],[93.5,6.6],[95.0,0.5],[96.7,3.5],[98.3,0.3],[100,11.6],[101.2,1.0],[102.3,2.0],[104,0.3],[105.4,2.0],[107,0.3],[108.8,3.6],[110.6,0.3],[112.5,1.0],[114.7,0.2],[117,1.5],[118.4,0.2],[119.7,0.5],[121,0.2],[122.6,1.2],[124.7,0.2],[126.8,0.5],[129,0.2],[131,1.0],[134,0.2],[137,0.8],[142,0.2],[147,0.5],[152,0.2],[157,1.3],[161,0.3],[165,0.2],[169,0.5],[178,0.3],[195,0.2],[224,0.4],[258,0.2],[297,0.3],[342,0.3],[358,0.5],[410,0.2],[496,0.1],[500,0.1]];

// ---------- layout geometry ----------
const W = 1079, H = 724;
const FONT = 'Liberation Sans, Arial, Helvetica, sans-serif';
const colPx = [[82.7, 361.3], [430, 707.5], [776.7, 1055]];
const rowTopPx = 39.3, rowHPx = 153;

const columns = [
  {series: [ozonePC1, ozonePC2, ozonePC3, ozonePC4], variance: ozoneVariance, ymax: 25, topTicks: yTicksTop25, ticks: yTicks25, minor: 2.5, labelX: 305, titleX: 218},
  {series: [temperaturePC1, temperaturePC2, temperaturePC3, temperaturePC4], variance: temperatureVariance, ymax: 50, topTicks: yTicksTop50, ticks: yTicks50, minor: 5, labelX: 621, titleX: 568},
  {series: [windPC1, windPC2, windPC3, windPC4], variance: windVariance, ymax: 25, topTicks: yTicksTop25, ticks: yTicks25, minor: 2.5, labelX: 989, titleX: 912}
];
const pcLabelXAdjust = [[0,0,0,0],[0,0,0,0],[0,0,7,0]];
const pcBaseline = [67, 221, 376, 530];
const pctBaseline = [99, 253, 409, 563];

const px2x = p => p / W;
const px2y = p => 1 - p / H;

const traces = [];
const layout = {
  width: W, height: H,
  margin: {l: 0, r: 0, t: 0, b: 0},
  paper_bgcolor: '#ffffff', plot_bgcolor: '#ffffff',
  showlegend: false,
  font: {family: FONT, color: '#000', size: 20},
  annotations: []
};

columns.forEach((col, c) => {
  col.series.forEach((data, r) => {
    const idx = r * 3 + c + 1;
    const sfx = idx === 1 ? '' : String(idx);
    const top = rowTopPx + r * rowHPx, bot = top + rowHPx;
    layout['xaxis' + sfx] = {
      type: 'log', range: [1, Math.log10(500)],
      domain: [px2x(colPx[c][0]), px2x(colPx[c][1])],
      anchor: 'y' + sfx,
      tickmode: 'array', tickvals: xTickVals, ticktext: xTickText,
      showticklabels: r === 3,
      ticks: 'inside', ticklen: 6, tickwidth: 1, tickcolor: '#000',
      minor: {tickmode: 'array', tickvals: xMinorVals, ticks: 'inside', ticklen: 4, tickwidth: 1, tickcolor: '#000'},
      mirror: 'allticks', showline: true, linecolor: '#000', linewidth: 1,
      showgrid: false, zeroline: false,
      tickfont: {family: FONT, size: 21, color: '#000'},
      ticklabelstandoff: 11,
      fixedrange: true
    };
    layout['yaxis' + sfx] = {
      range: [0, col.ymax],
      domain: [px2y(bot), px2y(top)],
      anchor: 'x' + sfx,
      tickmode: 'array', tickvals: r === 0 ? col.topTicks : col.ticks,
      ticks: 'inside', ticklen: 5, tickwidth: 1, tickcolor: '#000',
      minor: {dtick: col.minor, ticks: 'inside', ticklen: 3, tickwidth: 1, tickcolor: '#000'},
      mirror: 'allticks', showline: true, linecolor: '#000', linewidth: 1,
      showgrid: false, zeroline: false,
      tickfont: {family: FONT, size: 21, color: '#000'},
      ticklabelstandoff: 6,
      fixedrange: true
    };
    traces.push({
      type: 'scatter', mode: 'lines',
      x: data.map(d => d[0]), y: data.map(d => d[1]),
      xaxis: 'x' + sfx, yaxis: 'y' + sfx,
      line: {color: '#0000ff', width: 1.5},
      hoverinfo: 'skip'
    });
    const lx = col.labelX + pcLabelXAdjust[c][r];
    layout.annotations.push({
      xref: 'paper', yref: 'paper', x: px2x(lx), y: px2y(pcBaseline[r] - 5),
      xanchor: 'left', yanchor: 'middle', showarrow: false,
      text: pcNames[r], font: {family: FONT, size: 22, color: '#000'}
    });
    layout.annotations.push({
      xref: 'paper', yref: 'paper', x: px2x(lx), y: px2y(pctBaseline[r] - 7),
      xanchor: 'left', yanchor: 'middle', showarrow: false,
      text: col.variance[r], font: {family: FONT, size: 22, color: '#000'}
    });
  });
  layout.annotations.push({
    xref: 'paper', yref: 'paper', x: px2x(col.titleX), y: px2y(21),
    xanchor: 'center', yanchor: 'middle', showarrow: false,
    text: columnTitles[c], font: {family: FONT, size: 22, color: '#000'}
  });
  layout.annotations.push({
    xref: 'paper', yref: 'paper', x: px2x((colPx[c][0] + colPx[c][1]) / 2 - 1), y: px2y(707),
    xanchor: 'center', yanchor: 'middle', showarrow: false,
    text: 'PERIOD (days)', font: {family: FONT, size: 22, color: '#000'}
  });
});

layout.annotations.push({
  xref: 'paper', yref: 'paper', x: px2x(22), y: px2y(326),
  xanchor: 'center', yanchor: 'middle', showarrow: false, textangle: -90,
  text: 'POWER\u00a0\u00a0\u00a0SPECTRAL\u00a0\u00a0\u00a0DENSITY', font: {family: FONT, size: 21, color: '#000'}
});

Plotly.newPlot('chart', traces, layout, {staticPlot: true, displayModeBar: false});
</script>
</body></html>
